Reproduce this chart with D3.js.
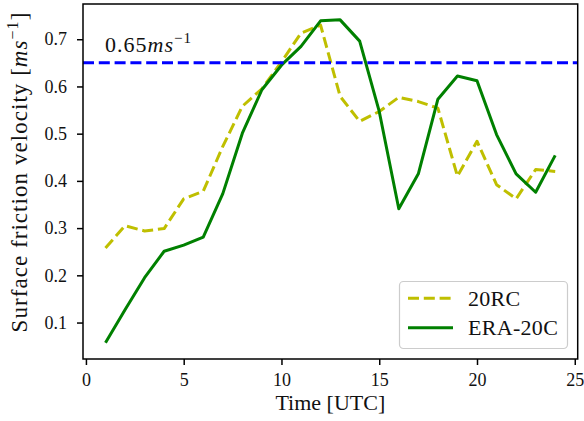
<!DOCTYPE html>
<html><head><meta charset="utf-8">
<script src="https://cdn.jsdelivr.net/npm/d3@7"></script>
<style>body{margin:0;background:#fff}svg{display:block}text{font-family:"Liberation Serif","Times New Roman","DejaVu Serif",serif;fill:#111}</style>
</head><body><svg id="c" width="584" height="421"></svg>
<script>
const hours = [1,2,3,4,5,6,7,8,9,10,11,12,13,14,15,16,17,18,19,20,21,22,23,24];
const rc20 = [0.258,0.305,0.294,0.299,0.362,0.378,0.473,0.558,0.595,0.652,0.713,0.730,0.579,0.526,0.547,0.577,0.568,0.554,0.410,0.484,0.392,0.362,0.424,0.420];
const era20c = [0.057,0.127,0.195,0.251,0.264,0.281,0.373,0.501,0.593,0.645,0.685,0.739,0.741,0.696,0.547,0.341,0.415,0.573,0.622,0.612,0.498,0.415,0.376,0.454];
const xTicks = [0,5,10,15,20,25];
const yTicks = [0.1,0.2,0.3,0.4,0.5,0.6,0.7];
const threshold = 0.65;
const seriesNames = ["20RC","ERA-20C"];
const FONT = '"Liberation Serif","Times New Roman","DejaVu Serif",serif';

const svg = d3.select("#c");
const L=83, R=577.7, T=4, B=359;
const x = d3.scaleLinear().domain([-0.15,25.15]).range([L,R]);
const y = d3.scaleLinear().domain([0.0228,0.7746]).range([B,T]);

const series = [
  {name:seriesNames[0], vals:rc20, color:"#bfbf00", dash:"11,4.8"},
  {name:seriesNames[1], vals:era20c, color:"#008000", dash:null}
];
const line = d3.line().x(d=>x(d[0])).y(d=>y(d[1]));
series.forEach(s=>{
  svg.append("path").datum(hours.map((h,i)=>[h,s.vals[i]]))
    .attr("d",line).attr("fill","none").attr("stroke",s.color)
    .attr("stroke-width",3).attr("stroke-dasharray",s.dash)
    .attr("stroke-linejoin","round").attr("stroke-linecap","butt");
});
svg.append("line").attr("x1",L).attr("x2",R).attr("y1",y(threshold)).attr("y2",y(threshold))
  .attr("stroke","#0000ff").attr("stroke-width",3).attr("stroke-dasharray","11,4.8");

const ann = svg.append("text").attr("x",105).attr("y",52).attr("font-size",22)
  .attr("font-family",FONT).attr("letter-spacing",1);
ann.append("tspan").text("0.65");
ann.append("tspan").attr("font-style","italic").text("ms");
ann.append("tspan").attr("dy",-9).attr("font-size",15).text("−1");

// axes
const xa = svg.append("g").attr("transform",`translate(0,${B})`)
  .call(d3.axisBottom(x).tickValues(xTicks).tickFormat(d3.format("d")).tickSize(6).tickSizeOuter(0));
const ya = svg.append("g").attr("transform",`translate(${L},0)`)
  .call(d3.axisLeft(y).tickValues(yTicks).tickFormat(d3.format(".1f")).tickSize(6).tickSizeOuter(0));
[xa,ya].forEach(g=>{
  g.select(".domain").remove();
  g.selectAll(".tick line").attr("stroke","#000").attr("stroke-width",1.5);
  g.selectAll(".tick text").attr("font-family",FONT).attr("font-size",18).attr("fill","#222");
});
xa.selectAll(".tick text").attr("y",14).attr("dy","0.71em");
ya.selectAll(".tick text").attr("x",-16).attr("dy","0.32em");

svg.append("rect").attr("x",L).attr("y",T).attr("width",R-L).attr("height",B-T)
  .attr("fill","none").attr("stroke","#000").attr("stroke-width",1.5);

svg.append("text").attr("x",(L+R)/2).attr("y",410).attr("text-anchor","middle")
  .attr("font-family",FONT).attr("font-size",22).text("Time [UTC]");
const yl = svg.append("text").attr("transform","translate(27,172) rotate(-90)")
  .attr("text-anchor","middle").attr("font-family",FONT).attr("font-size",23).attr("letter-spacing",1.05);
yl.append("tspan").text("Surface friction velocity [");
yl.append("tspan").attr("font-style","italic").text("ms");
yl.append("tspan").attr("dy",-9).attr("font-size",16).text("−1");
yl.append("tspan").attr("dy",9).text("]");

// legend
const lg = svg.append("g");
lg.append("rect").attr("x",399.5).attr("y",281.5).attr("width",168).attr("height",67).attr("rx",4)
  .attr("fill","#fff").attr("fill-opacity",0.8).attr("stroke","#cccccc").attr("stroke-width",1.2);
series.forEach((s,i)=>{
  const yy = 298.3 + i*29.4;
  lg.append("line").attr("x1",408).attr("x2",453).attr("y1",yy).attr("y2",yy)
    .attr("stroke",s.color).attr("stroke-width",3).attr("stroke-dasharray",s.dash);
  lg.append("text").attr("x",468).attr("y",yy+7.5).attr("font-family",FONT).attr("font-size",22)
    .attr("letter-spacing",0.3).text(s.name);
});
</script></body></html>
